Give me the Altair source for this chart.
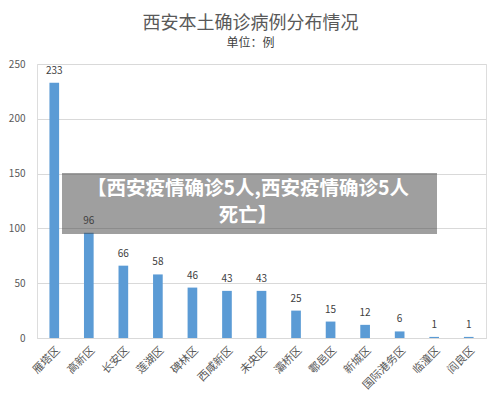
import altair as alt
import pandas as pd

districts = ["雁塔区", "高新区", "长安区", "莲湖区", "碑林区", "西咸新区", "未央区",
             "灞桥区", "鄠邑区", "新城区", "国际港务区", "临潼区", "阎良区"]
cases = [233, 96, 66, 58, 46, 43, 43, 25, 15, 12, 6, 1, 1]
y_ticks = [0, 50, 100, 150, 200, 250]
title_text = "西安本土确诊病例分布情况"
subtitle_text = "单位：例"
banner_lines = ["【西安疫情确诊5人,西安疫情确诊5人", "死亡】"]

df = pd.DataFrame({"district": districts, "cases": cases})
FONT = "Noto Sans CJK SC"

x_enc = alt.X("district:N", sort=districts, title=None,
              scale=alt.Scale(paddingInner=0.72, paddingOuter=0.36),
              axis=alt.Axis(labelAngle=-45, labelColor="#595959", labelFontSize=11,
                            labelFont=FONT, domainColor="#d9d9d9", ticks=False,
                            labelPadding=6))
y_enc = alt.Y("cases:Q", title=None,
              scale=alt.Scale(domain=[0, 250], nice=False),
              axis=alt.Axis(values=y_ticks, labelColor="#595959", labelFontSize=10,
                            labelFont=FONT, domain=False, ticks=False,
                            gridColor="#d9d9d9", labelPadding=12))

base = alt.Chart(df)
bars = base.mark_bar(color="#5b9bd5").encode(x=x_enc, y=y_enc)
labels = base.mark_text(dy=-12, fontSize=10, color="#404040", font=FONT).encode(
    x=alt.X("district:N", sort=districts), y="cases:Q", text="cases:Q")

one = pd.DataFrame({"k": [0]})
box = alt.Chart(one).mark_rect(color="#404040", opacity=0.5).encode(
    x=alt.value(25), x2=alt.value(400), y=alt.value(109), y2=alt.value(170))
line1 = alt.Chart(one).mark_text(
    color="white", fontSize=19.5, fontWeight="bold", font=FONT).encode(
    x=alt.value(211), y=alt.value(125), text=alt.value(banner_lines[0]))
line2 = alt.Chart(one).mark_text(
    color="white", fontSize=19.5, fontWeight="bold", font=FONT).encode(
    x=alt.value(211), y=alt.value(152), text=alt.value(banner_lines[1]))

chart = alt.layer(bars, labels, box, line1, line2).properties(
    width=449, height=274,
    title=alt.Title(title_text, subtitle=subtitle_text, fontSize=18, color="#595959",
                    font=FONT, fontWeight="normal", subtitleFont=FONT,
                    subtitleFontSize=12, subtitleColor="#404040", anchor="middle",
                    offset=10, subtitlePadding=5, dx=-11),
    autosize=alt.AutoSizeParams(type="none"),
    padding={"left": 29, "top": 56, "right": 6, "bottom": 60},
).configure_view(stroke=None).configure(background="white")

chart.save("out.html", embed_options={"renderer": "svg", "actions": False})
